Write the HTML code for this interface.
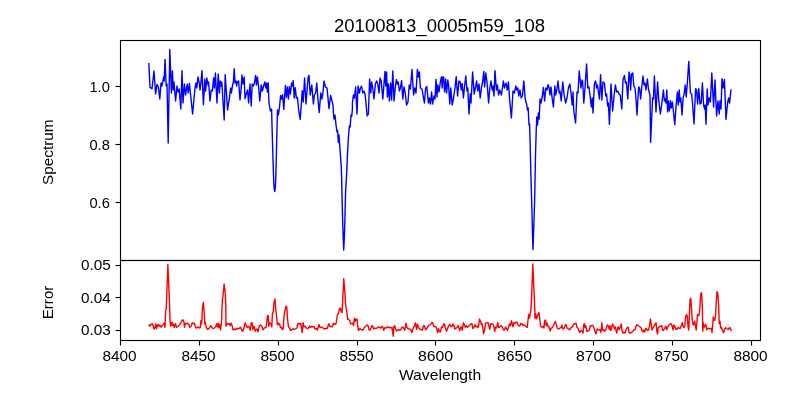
<!DOCTYPE html>
<html><head><meta charset="utf-8"><title>20100813_0005m59_108</title><style>
html,body{margin:0;padding:0;background:#fff;}
body{width:800px;height:400px;overflow:hidden;position:relative;font-family:"Liberation Sans",sans-serif;}
svg{will-change:transform;position:absolute;left:0;top:0;display:block;}
text{font-family:"Liberation Sans",sans-serif;fill:#000;}
</style></head><body>
<svg width="800" height="400" viewBox="0 0 800 400">
<rect x="0" y="0" width="800" height="400" fill="#fff"/>
<clipPath id="c1"><rect x="120" y="40" width="641" height="221"/></clipPath>
<clipPath id="c2"><rect x="120" y="260" width="641" height="81"/></clipPath>
<polyline clip-path="url(#c1)" fill="none" stroke="#0000ff" stroke-width="1.4" stroke-linejoin="round" points="148.80,63.00 150.00,87.40 152.00,88.60 154.00,71.00 155.60,94.00 157.00,84.40 158.40,87.00 159.80,99.00 161.00,83.00 162.00,86.00 163.60,77.00 164.20,81.00 165.00,59.40 166.20,86.00 167.00,84.00 168.20,143.00 169.80,49.40 171.40,93.00 172.40,71.00 173.20,90.00 174.00,82.00 175.60,101.00 177.00,86.00 178.00,92.00 179.20,89.00 180.80,109.00 182.00,70.60 183.00,103.00 184.40,84.00 185.60,95.00 187.20,84.00 188.20,93.00 189.40,83.40 192.60,114.00 195.00,88.00 196.00,83.00 196.80,88.00 198.00,77.00 199.20,83.00 200.00,90.00 200.80,84.00 202.00,70.60 203.40,104.60 204.80,79.00 205.60,91.00 206.80,78.00 208.00,85.00 208.60,82.00 210.00,101.00 211.20,90.00 212.40,91.00 213.60,78.00 214.40,88.00 215.40,73.00 217.00,103.00 218.20,74.00 219.40,93.00 220.20,81.00 221.00,86.00 221.80,82.00 224.20,120.00 225.20,74.60 227.60,110.00 228.60,103.00 229.40,98.00 230.60,88.00 231.40,93.00 232.60,85.00 233.40,82.00 234.20,68.60 235.00,83.00 236.00,81.00 236.60,86.00 237.40,82.00 238.60,81.00 240.00,100.00 241.20,88.00 242.00,75.00 243.00,84.00 244.20,77.00 245.00,98.60 246.60,93.00 247.60,90.00 248.60,103.00 250.00,84.00 251.20,106.00 252.20,84.00 253.40,86.00 254.40,83.00 255.60,75.40 256.40,85.00 257.40,77.00 258.60,87.00 259.80,101.00 261.20,85.00 262.40,91.00 263.60,86.00 264.80,82.00 265.80,88.00 266.60,83.00 267.40,92.00 268.20,83.00 269.00,103.00 270.40,111.00 271.60,109.00 272.00,125.00 273.00,160.00 273.75,183.00 274.40,190.00 274.80,191.50 275.20,189.00 275.80,178.00 276.50,150.00 277.20,120.00 277.50,110.00 277.40,110.00 278.40,115.00 279.40,108.00 280.60,95.40 281.60,99.00 282.60,94.60 283.80,109.40 285.40,85.40 286.40,97.40 287.40,87.00 288.40,99.00 289.40,86.60 290.40,94.00 291.60,83.00 292.60,86.00 293.20,80.60 294.20,98.00 295.20,87.60 296.40,98.00 297.40,97.40 298.60,109.40 300.20,119.40 301.40,103.00 302.20,90.60 303.20,102.00 304.60,78.00 306.00,104.00 307.40,86.00 308.20,77.00 309.00,75.40 310.20,95.00 311.80,85.00 313.40,104.00 314.40,95.00 315.60,93.00 316.80,83.00 317.80,97.40 319.20,112.60 320.80,93.00 321.80,99.00 322.80,94.00 324.00,81.00 325.40,87.00 327.00,88.00 329.00,108.60 330.60,95.40 333.00,105.00 333.40,113.00 334.00,119.00 335.00,115.00 336.00,125.00 337.00,132.00 337.60,130.60 338.40,142.60 339.00,135.00 340.00,149.00 341.40,169.00 342.40,212.00 343.10,235.00 343.70,250.00 344.30,238.00 344.80,223.00 345.60,191.00 346.60,175.00 347.40,155.00 348.60,135.00 349.40,126.00 350.20,127.00 351.00,115.00 351.80,116.00 352.40,109.00 352.40,103.00 353.40,95.00 354.40,98.00 355.60,87.00 357.00,114.00 358.00,86.00 359.40,93.00 360.40,88.00 361.60,86.00 362.80,93.00 364.00,91.00 365.20,95.00 367.20,116.00 368.40,114.00 369.60,79.00 370.80,93.00 371.60,82.00 372.80,88.00 374.00,99.00 375.40,84.00 376.60,81.00 377.80,84.00 379.00,93.00 380.00,78.00 381.20,81.00 382.80,99.00 384.00,84.00 385.00,71.40 385.80,86.00 386.60,72.00 387.40,97.00 388.40,84.00 389.40,101.00 390.60,83.00 391.60,100.00 392.80,71.00 394.00,101.00 395.20,88.00 396.40,79.40 397.40,84.00 398.20,82.00 399.40,91.00 400.40,88.00 401.60,80.60 402.80,99.00 404.00,87.00 405.20,93.00 406.60,105.00 408.00,102.00 409.20,85.00 410.40,89.00 412.00,69.40 413.60,95.00 414.80,88.00 416.00,93.00 417.40,69.40 418.40,77.00 419.40,72.00 420.40,88.00 422.00,89.00 424.40,103.00 425.60,88.00 426.80,86.60 428.40,103.00 429.40,98.00 430.40,104.00 431.60,92.00 432.60,104.00 434.00,96.00 435.00,99.00 436.00,79.40 437.00,97.00 437.80,85.00 439.00,92.00 440.20,83.00 441.40,77.00 442.20,88.00 442.80,77.00 443.60,77.00 444.60,92.00 445.60,79.00 446.60,93.00 447.80,80.00 448.60,85.00 449.80,104.00 450.80,88.00 452.20,105.00 453.40,99.00 455.00,88.00 456.20,76.60 457.60,96.00 459.00,81.00 460.20,82.00 461.20,90.00 462.20,83.40 463.40,98.00 464.60,86.00 465.80,76.00 467.00,91.00 467.80,88.00 469.00,114.00 470.20,94.00 471.00,103.00 472.60,72.00 474.20,94.00 475.40,88.00 476.60,81.00 477.80,91.00 479.00,84.00 480.20,98.00 481.40,88.00 482.60,82.00 483.80,71.40 484.60,87.00 485.80,73.00 487.00,82.00 488.60,103.00 489.80,88.00 491.00,81.00 492.20,90.00 493.00,86.00 494.00,96.00 495.00,70.60 496.40,90.00 497.40,85.00 498.60,95.00 499.80,90.00 501.40,95.00 502.40,88.00 503.40,81.00 504.40,88.00 504.80,86.00 506.00,83.00 507.20,90.00 508.40,82.00 509.60,99.00 511.40,118.00 513.00,91.00 514.40,93.00 515.80,86.00 516.80,90.00 517.80,88.00 518.80,96.00 520.00,90.00 521.20,98.00 522.40,96.00 523.80,81.00 525.20,99.00 526.80,105.00 527.40,110.00 528.20,108.00 529.00,125.00 529.60,124.00 530.20,145.00 530.90,175.00 532.00,212.50 532.60,238.00 533.00,249.50 533.50,236.00 534.60,202.00 535.20,172.00 535.50,155.00 536.20,131.00 536.80,117.00 537.60,125.00 538.40,113.00 539.20,119.00 540.00,99.00 541.00,103.00 542.20,97.00 543.40,87.40 544.60,101.00 545.80,88.00 547.00,90.00 548.00,84.60 549.20,88.00 550.00,95.00 551.00,87.00 552.00,97.00 553.40,107.00 554.80,86.00 555.60,95.00 556.80,90.00 558.00,81.00 559.20,93.00 560.00,91.00 561.20,101.00 562.80,82.00 564.00,94.00 565.60,103.00 567.00,98.00 568.40,88.00 569.80,84.00 571.00,93.00 572.20,105.00 573.00,92.00 573.80,111.00 575.60,123.00 577.00,92.00 578.00,93.00 579.20,71.00 581.00,88.00 582.00,80.00 582.60,81.00 583.80,103.00 585.00,88.00 586.60,64.00 587.80,88.00 589.00,87.00 590.20,97.00 591.40,107.00 592.20,98.00 593.00,113.00 594.40,84.00 595.60,81.00 596.60,88.00 597.40,85.00 598.40,92.00 599.40,99.00 600.60,74.60 601.80,100.00 603.00,82.00 604.40,83.00 605.80,96.00 606.60,94.00 607.60,106.00 608.40,103.00 609.40,124.20 611.00,84.00 612.60,111.00 614.20,95.00 615.40,85.00 616.60,92.00 617.80,91.00 619.00,94.00 620.20,95.00 621.80,109.00 623.00,80.00 624.40,75.40 625.40,83.00 626.40,82.00 627.80,99.00 629.00,72.00 629.80,75.00 630.60,90.00 631.60,74.00 632.80,73.00 633.80,86.00 635.00,88.00 635.80,96.00 637.00,115.00 638.60,87.00 639.60,88.00 640.60,99.00 641.80,87.00 643.00,76.00 644.00,85.00 645.00,83.00 646.00,90.00 647.40,79.00 648.60,90.00 650.00,95.00 650.60,142.20 652.60,98.00 653.40,99.00 654.40,76.00 656.00,112.00 657.60,82.00 658.80,101.00 660.40,114.00 662.00,102.00 663.40,90.00 664.40,101.00 665.20,99.00 666.00,103.00 666.80,90.00 667.60,112.00 668.40,101.00 669.40,111.00 670.40,100.60 671.20,108.00 672.40,102.00 673.60,113.00 674.80,124.60 676.20,104.00 677.40,92.00 678.20,105.00 679.20,90.00 680.00,102.00 680.80,98.00 682.00,115.00 683.20,97.00 684.00,95.00 685.20,85.00 686.20,97.00 687.20,85.00 688.80,61.40 690.40,93.00 691.60,94.00 692.60,104.00 694.00,124.00 695.60,88.60 696.60,90.00 697.60,104.00 698.80,88.60 700.00,104.00 701.20,103.00 702.40,83.00 703.60,105.00 704.60,109.00 705.20,105.00 706.00,124.20 707.20,89.00 708.00,105.00 709.20,98.00 710.40,102.00 711.80,73.00 713.60,107.00 715.00,80.00 716.60,116.00 718.00,101.00 719.20,114.00 720.00,101.00 721.00,109.00 722.00,78.60 723.20,88.00 724.40,79.40 726.00,119.40 727.60,103.00 728.60,98.00 729.60,103.00 731.00,89.40"/>
<polyline clip-path="url(#c2)" fill="none" stroke="#ff0000" stroke-width="1.4" stroke-linejoin="round" points="148.75,324.38 150.00,326.25 151.00,324.38 152.25,323.75 152.88,325.00 154.00,329.00 155.00,327.50 155.75,324.00 156.50,328.75 157.50,325.00 158.25,324.38 159.00,326.25 160.00,325.25 161.00,327.25 162.00,325.62 163.00,325.00 164.38,322.75 165.00,327.50 165.62,310.00 166.25,308.75 167.88,264.50 169.50,302.50 170.00,320.00 170.62,326.25 171.25,322.75 172.00,322.25 172.50,325.62 173.50,324.00 174.25,327.50 175.50,323.75 176.50,327.25 177.50,326.50 179.00,325.62 180.62,323.12 182.25,320.00 183.12,320.00 184.00,322.75 184.50,327.50 185.25,323.12 186.25,323.75 187.25,323.50 188.75,324.00 189.75,327.25 191.00,326.25 192.25,322.75 193.50,323.75 194.38,323.12 195.62,327.50 196.50,328.12 197.75,326.88 198.75,327.25 199.50,328.12 200.50,327.50 200.88,320.62 201.50,323.75 201.88,320.00 202.50,307.50 203.38,302.25 204.12,311.25 204.75,323.75 205.50,322.75 206.25,327.50 207.50,329.38 208.75,328.75 210.00,327.25 211.00,325.62 212.00,327.50 213.12,328.50 214.38,328.12 215.62,326.88 216.75,323.75 217.50,326.88 218.25,323.50 218.75,327.50 219.50,324.38 220.50,330.00 221.50,322.50 222.12,305.00 222.50,298.12 222.88,297.50 224.12,284.00 225.25,292.50 225.75,305.00 226.00,326.25 226.88,323.50 228.12,324.00 229.38,323.75 230.25,325.62 231.25,323.12 232.25,326.25 233.12,330.00 234.38,329.00 235.62,329.75 236.88,328.12 238.12,329.00 239.38,328.12 240.62,327.25 241.50,329.75 242.75,331.25 244.00,327.50 245.25,322.75 246.25,325.62 247.25,327.50 248.50,326.25 249.38,327.50 250.25,330.25 251.25,322.75 252.12,322.75 252.75,329.75 253.50,326.88 254.12,326.25 255.25,331.25 256.25,329.38 257.25,329.00 258.00,331.88 259.38,325.62 260.62,325.00 261.88,326.25 263.00,329.75 264.00,328.50 265.00,327.50 266.00,327.50 266.75,322.75 267.50,315.62 268.25,315.62 268.75,326.25 269.75,322.75 271.00,323.50 271.75,326.88 272.50,313.12 273.25,311.88 274.00,302.50 275.00,299.00 275.75,310.00 276.50,315.00 277.25,323.75 277.75,325.00 278.50,323.12 279.50,323.75 280.50,327.50 281.50,327.50 282.50,329.75 283.25,328.75 283.75,320.00 284.50,312.50 285.00,310.62 286.00,306.25 286.75,306.88 287.50,318.75 288.50,326.88 289.38,327.50 290.62,330.62 291.88,329.38 293.12,329.00 294.38,329.38 295.62,328.75 296.88,328.12 297.75,323.75 298.75,323.50 300.00,323.75 300.75,323.50 301.50,328.75 302.25,332.50 303.12,322.75 304.00,326.88 305.00,326.25 306.00,327.50 307.00,328.50 308.25,328.12 309.50,326.00 310.50,327.50 311.75,326.25 312.75,326.88 314.00,326.50 315.00,329.00 316.25,328.50 317.50,330.00 319.00,324.38 320.00,327.50 321.25,327.25 322.50,327.50 323.75,328.50 325.00,329.00 326.25,328.12 327.25,328.50 328.75,323.75 329.75,326.25 331.00,326.50 332.25,326.88 333.75,323.12 334.75,324.38 336.00,323.75 336.88,318.75 337.50,314.38 338.50,313.12 339.75,308.12 340.62,308.75 341.25,311.88 342.12,312.50 343.75,278.62 344.88,292.50 345.62,305.00 346.88,312.50 347.75,319.38 348.75,319.38 349.75,320.62 350.62,323.75 351.88,323.50 352.75,323.12 353.50,325.62 354.50,318.12 355.38,321.25 356.25,319.00 357.12,319.38 357.75,326.25 358.50,330.62 359.75,328.50 361.00,329.38 362.75,330.25 364.38,327.50 366.25,325.62 367.50,325.00 368.25,326.25 369.00,329.75 370.25,330.00 371.25,327.50 372.00,325.62 372.75,326.25 373.75,329.00 375.00,328.12 376.25,328.50 377.50,327.50 379.00,326.88 380.62,328.12 381.88,326.50 382.75,326.88 383.75,330.25 385.00,327.50 386.25,328.12 387.50,326.88 388.75,327.50 390.00,327.25 391.25,328.12 392.00,327.25 392.50,331.25 393.25,336.25 393.75,326.88 394.75,325.62 395.50,328.75 396.50,331.00 398.12,329.75 399.38,330.25 400.62,330.00 401.88,327.25 403.12,327.50 404.00,328.75 404.75,330.25 406.00,323.12 406.88,327.50 408.12,328.75 409.38,329.00 410.62,329.38 411.88,332.50 413.12,328.12 414.38,326.25 415.62,322.75 416.50,329.38 417.50,324.38 418.75,328.12 419.75,329.00 421.25,329.75 422.50,330.00 423.50,325.62 424.38,325.62 425.62,329.75 426.88,328.12 428.12,326.25 429.38,325.00 431.00,324.00 432.00,322.25 433.00,323.75 433.75,326.25 435.00,326.88 436.25,326.88 437.50,332.50 438.50,328.75 439.50,331.88 440.50,331.88 441.50,326.88 442.50,327.50 443.75,323.75 444.50,324.38 445.25,327.50 446.50,331.25 447.50,328.75 448.50,326.25 449.75,324.38 450.75,326.25 451.75,326.88 453.00,324.00 454.00,325.62 454.75,329.00 456.00,328.12 457.00,327.50 458.00,325.62 458.75,327.50 459.75,330.62 460.75,327.25 461.50,326.88 462.25,330.25 463.50,322.75 464.38,325.00 465.25,327.25 466.25,325.62 467.25,327.50 468.50,326.25 469.75,325.25 471.00,323.75 472.00,323.75 472.75,328.50 474.00,327.25 475.00,324.75 476.00,326.88 477.00,326.25 478.00,327.50 478.75,325.00 479.50,319.00 480.50,321.25 481.25,324.38 482.00,323.75 482.75,327.50 483.50,333.75 484.50,330.62 485.50,323.12 486.88,322.75 488.25,322.75 489.00,326.25 489.75,329.38 490.75,324.00 491.75,323.75 493.12,324.38 494.00,327.50 494.75,331.25 495.50,326.88 496.25,328.12 497.00,326.25 497.75,322.50 498.50,327.50 499.50,327.25 500.50,326.25 501.50,325.62 502.50,327.50 503.50,330.00 504.50,329.75 505.50,326.88 506.50,328.75 507.50,330.25 508.50,327.50 509.50,324.00 510.50,325.62 511.50,320.62 512.25,324.38 513.00,326.88 513.75,322.75 514.75,323.50 515.75,322.25 516.75,321.88 517.75,324.38 518.75,325.62 519.75,326.25 520.75,323.50 521.75,323.75 522.75,325.25 524.00,325.00 525.00,325.62 526.25,326.88 527.25,327.50 528.00,320.00 528.75,314.38 529.50,318.12 530.00,315.00 530.75,311.25 531.38,302.50 532.81,264.00 534.50,302.50 535.00,318.12 535.75,313.75 536.50,318.75 537.25,316.88 538.25,313.75 539.00,312.50 539.75,318.75 540.62,326.25 541.88,327.25 543.12,326.25 544.00,328.12 544.75,320.62 545.50,320.00 546.25,325.62 547.25,323.12 548.00,326.50 549.00,326.88 550.25,331.00 551.25,328.12 552.50,327.50 553.75,325.00 555.25,321.50 556.25,324.38 557.25,328.12 558.75,329.00 560.00,328.12 561.25,327.25 562.00,325.25 562.75,328.75 564.00,328.50 565.00,325.62 566.00,324.38 567.00,328.12 568.25,328.75 569.75,329.75 571.25,327.50 572.50,326.88 573.75,324.00 575.00,323.75 576.00,323.12 577.00,327.50 578.00,328.12 579.00,331.00 580.00,332.50 581.00,330.62 582.00,330.62 583.00,333.12 583.75,324.38 584.50,323.75 585.00,327.50 585.75,325.62 586.75,331.25 588.12,331.00 589.38,330.25 590.25,325.62 591.25,326.00 592.25,325.25 593.00,326.00 593.75,327.50 594.75,330.62 596.00,333.75 597.25,329.00 598.25,329.75 599.50,330.00 600.50,329.75 601.00,332.50 601.88,322.75 602.50,330.00 603.50,329.75 604.50,331.25 605.50,330.62 606.50,327.50 607.50,325.00 608.50,326.25 609.25,329.38 610.00,325.62 610.75,330.62 611.75,327.50 612.50,324.00 613.50,325.62 614.50,328.75 615.25,326.88 616.00,330.62 616.75,333.12 617.75,327.50 618.50,326.88 619.25,329.75 620.25,327.50 621.25,324.00 622.00,330.62 623.00,333.12 624.00,332.50 625.00,333.12 626.00,330.00 627.25,327.50 628.25,327.25 629.00,332.50 630.25,333.12 631.25,332.50 632.50,331.88 633.75,329.75 635.00,329.75 636.00,326.25 636.75,324.75 637.75,325.25 639.00,326.25 640.00,326.88 641.00,327.50 642.00,330.62 643.00,331.88 643.75,330.00 644.75,331.88 645.75,328.50 646.75,329.00 647.50,330.62 648.50,330.00 649.50,326.25 650.38,319.00 651.25,324.38 652.00,330.00 653.00,328.12 654.00,326.25 655.00,324.38 656.00,322.75 656.75,330.62 657.50,334.00 658.25,327.50 659.25,326.88 660.50,326.25 661.75,325.62 662.75,330.62 663.75,330.00 664.75,328.12 665.75,326.25 666.75,329.75 667.75,326.88 669.00,325.00 670.25,324.00 671.25,323.75 672.25,326.25 673.00,329.75 674.00,325.00 675.00,326.88 676.00,329.38 677.25,329.00 678.25,327.50 679.25,328.12 680.25,328.50 681.25,325.62 682.25,322.75 683.12,326.25 684.00,327.50 684.75,326.25 685.62,316.88 686.50,314.38 687.25,316.25 688.00,326.25 688.75,330.00 689.38,315.00 690.00,300.00 690.75,298.12 691.50,308.75 692.25,320.00 693.25,325.00 694.00,324.38 694.75,321.25 695.50,326.25 696.25,330.00 697.00,321.25 697.50,314.38 698.50,315.62 699.25,314.38 700.00,306.25 700.75,293.75 701.50,292.50 702.25,305.00 702.62,321.25 702.75,331.25 703.25,322.75 704.00,327.50 704.75,326.25 705.75,324.38 706.75,329.75 707.75,328.12 709.00,328.50 710.25,328.75 711.25,328.12 712.00,332.50 712.75,325.00 713.25,316.88 714.00,320.00 714.75,320.20 715.50,316.00 716.25,302.50 717.00,291.70 717.75,292.75 718.50,302.50 718.95,314.50 719.25,323.50 720.00,321.25 720.60,328.00 721.50,327.70 722.40,330.25 723.60,332.80 724.50,329.50 725.70,327.70 726.90,328.75 728.10,329.50 729.30,328.00 730.20,327.70 731.25,331.00"/>
<g stroke="#000" stroke-width="1.11" fill="none" stroke-linecap="butt" stroke-linejoin="miter">
<rect x="120.5" y="40.5" width="640" height="220"/>
<rect x="120.5" y="260.5" width="640" height="80"/>
<line x1="120.5" y1="340.5" x2="120.5" y2="345.5"/>
<line x1="199.5" y1="340.5" x2="199.5" y2="345.5"/>
<line x1="278.5" y1="340.5" x2="278.5" y2="345.5"/>
<line x1="357.5" y1="340.5" x2="357.5" y2="345.5"/>
<line x1="435.5" y1="340.5" x2="435.5" y2="345.5"/>
<line x1="514.5" y1="340.5" x2="514.5" y2="345.5"/>
<line x1="593.5" y1="340.5" x2="593.5" y2="345.5"/>
<line x1="672.5" y1="340.5" x2="672.5" y2="345.5"/>
<line x1="751.5" y1="340.5" x2="751.5" y2="345.5"/>
<line x1="115.5" y1="86.5" x2="120.5" y2="86.5"/>
<line x1="115.5" y1="144.5" x2="120.5" y2="144.5"/>
<line x1="115.5" y1="202.5" x2="120.5" y2="202.5"/>
<line x1="115.5" y1="265.5" x2="120.5" y2="265.5"/>
<line x1="115.5" y1="297.5" x2="120.5" y2="297.5"/>
<line x1="115.5" y1="330.5" x2="120.5" y2="330.5"/>
</g>
<text x="102.40" y="360.50" font-size="14.1" textLength="34.30" lengthAdjust="spacingAndGlyphs">8400</text>
<text x="181.40" y="360.50" font-size="14.1" textLength="34.30" lengthAdjust="spacingAndGlyphs">8450</text>
<text x="260.40" y="360.50" font-size="14.1" textLength="34.30" lengthAdjust="spacingAndGlyphs">8500</text>
<text x="339.40" y="360.50" font-size="14.1" textLength="34.30" lengthAdjust="spacingAndGlyphs">8550</text>
<text x="417.90" y="360.50" font-size="14.1" textLength="35.20" lengthAdjust="spacingAndGlyphs">8600</text>
<text x="496.90" y="360.50" font-size="14.1" textLength="35.20" lengthAdjust="spacingAndGlyphs">8650</text>
<text x="575.90" y="360.50" font-size="14.1" textLength="35.20" lengthAdjust="spacingAndGlyphs">8700</text>
<text x="654.40" y="360.50" font-size="14.1" textLength="34.30" lengthAdjust="spacingAndGlyphs">8750</text>
<text x="733.40" y="360.50" font-size="14.1" textLength="34.30" lengthAdjust="spacingAndGlyphs">8800</text>
<text x="89.40" y="91.50" font-size="14.1" textLength="20.40" lengthAdjust="spacingAndGlyphs">1.0</text>
<text x="89.40" y="149.50" font-size="14.1" textLength="20.40" lengthAdjust="spacingAndGlyphs">0.8</text>
<text x="89.40" y="207.50" font-size="14.1" textLength="20.40" lengthAdjust="spacingAndGlyphs">0.6</text>
<text x="80.90" y="270.00" font-size="14.1" textLength="29.80" lengthAdjust="spacingAndGlyphs">0.05</text>
<text x="80.90" y="302.50" font-size="14.1" textLength="29.80" lengthAdjust="spacingAndGlyphs">0.04</text>
<text x="80.90" y="335.00" font-size="14.1" textLength="29.80" lengthAdjust="spacingAndGlyphs">0.03</text>
<text x="334.00" y="31.80" font-size="17.5" textLength="211.00" lengthAdjust="spacingAndGlyphs">20100813_0005m59_108</text>
<text x="398.90" y="379.50" font-size="14.1" textLength="82.30" lengthAdjust="spacingAndGlyphs">Wavelength</text>
<text transform="translate(53.30,185.00) rotate(-90)" font-size="14.1" textLength="65.50" lengthAdjust="spacingAndGlyphs">Spectrum</text>
<text transform="translate(53.30,319.20) rotate(-90)" font-size="14.1" textLength="33.50" lengthAdjust="spacingAndGlyphs">Error</text>
</svg></body></html>
